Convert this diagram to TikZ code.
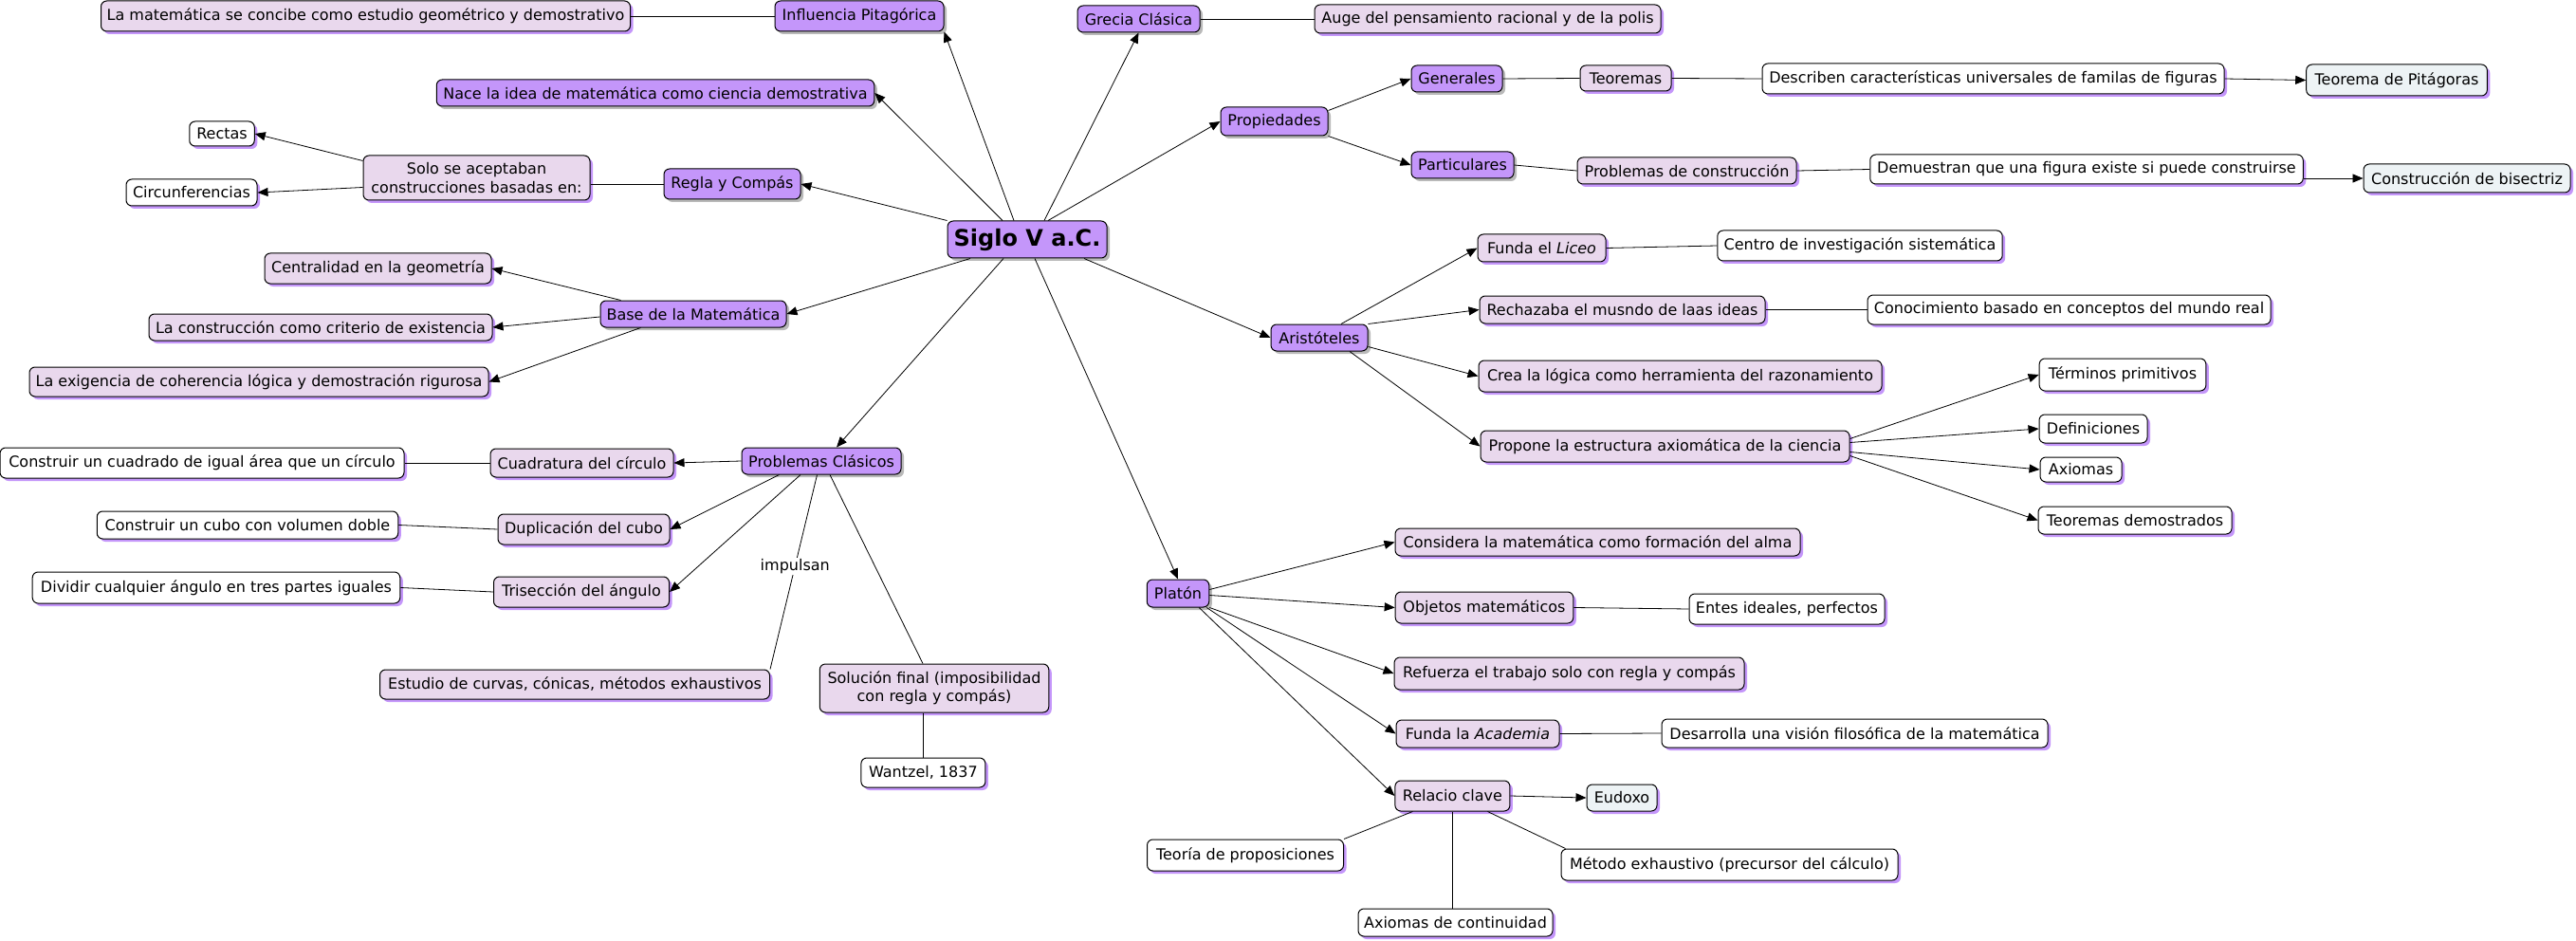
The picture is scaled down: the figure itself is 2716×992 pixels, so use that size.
\documentclass[tikz,border=0pt]{standalone}
\usepackage{fontspec}
\setmainfont{DejaVu Sans}
\usetikzlibrary{arrows.meta,shadows,calc}
\definecolor{cpur}{RGB}{196,150,250}
\definecolor{cpink}{RGB}{233,216,237}
\definecolor{cblue}{RGB}{237,243,245}
\definecolor{cshad}{RGB}{196,150,250}
\definecolor{cgshad}{RGB}{185,185,185}
\begin{document}
\begin{tikzpicture}[x=1pt,y=-1pt,
 box/.style={draw=black, line width=1pt, rounded corners=6pt, inner sep=2pt, align=center, text=black, font=\fontsize{16}{19.2}\selectfont},
 pn/.style={box, fill=cpur, drop shadow={shadow xshift=3pt, shadow yshift=-3pt, fill=cgshad, opacity=1}},
 kn/.style={box, fill=cpink, drop shadow={shadow xshift=3pt, shadow yshift=-3pt, fill=cshad, opacity=1}},
 wn/.style={box, fill=white, drop shadow={shadow xshift=3pt, shadow yshift=-3pt, fill=cshad, opacity=1}},
 bn/.style={box, fill=cblue, drop shadow={shadow xshift=3pt, shadow yshift=-3pt, fill=cshad, opacity=1}},
 sz/.style 2 args={minimum width=#1pt, minimum height=#2pt},
 link/.style={draw=black, line width=0.8pt},
 arr/.style={link, -{Triangle[length=11pt,width=9pt]}},
 lbl/.style={fill=white, inner sep=1pt, text=black, font=\fontsize{16}{19.2}\selectfont},
]
\fill[white] (0,0) rectangle (2716,992);
\useasboundingbox (0,0) rectangle (2716,992);

% purple nodes
\node[pn, sz={168}{39}, font=\fontsize{24}{28}\selectfont\bfseries] (siglo) at (1083,252.5) {Siglo V a.C.};
\node[pn, sz={178}{32}] (infl) at (906,17) {Influencia Pitagórica};
\node[pn, sz={461.5}{28}] (nace) at (691,98) {Nace la idea de matemática como ciencia demostrativa};
\node[pn, sz={129}{28}] (grecia) at (1200.5,20) {Grecia Clásica};
\node[pn, sz={113}{30}] (prop) at (1343.5,128) {Propiedades};
\node[pn, sz={96}{28}] (gen) at (1536,83) {Generales};
\node[pn, sz={108}{28}] (part) at (1542,174) {Particulares};
\node[pn, sz={102}{28}] (arist) at (1391,356) {Aristóteles};
\node[pn, sz={144}{32}] (regla) at (772,194) {Regla y Compás};
\node[pn, sz={196}{28}] (base) at (731,331) {Base de la Matemática};
\node[pn, sz={168}{28}] (probl) at (866,486) {Problemas Clásicos};
\node[pn, sz={65.5}{29}] (platon) at (1242,625.5) {Platón};

% pink nodes
\node[kn, sz={558}{32}] (lamat) at (385.5,17) {La matemática se concibe como estudio geométrico y demostrativo};
\node[kn, sz={365}{30}] (auge) at (1568.5,20) {Auge del pensamiento racional y de la polis};
\node[kn, sz={96}{27}] (teoremas) at (1714,82.5) {Teoremas};
\node[kn, sz={231}{28}] (probcons) at (1778.5,180) {Problemas de construcción};
\node[kn, sz={135}{29}] (liceo) at (1625.5,261.5) {Funda el \textit{Liceo}};
\node[kn, sz={301}{29}] (rech) at (1710.5,326.5) {Rechazaba el musndo de laas ideas};
\node[kn, sz={425}{33}] (crea) at (1771.5,396.5) {Crea la lógica como herramienta del razonamiento};
\node[kn, sz={389}{33}] (propone) at (1755.5,470.5) {Propone la estructura axiomática de la ciencia};
\node[kn, sz={239}{47}] (solo) at (502.5,187.5) {Solo se aceptaban\\construcciones basadas en:};
\node[kn, sz={239}{32}] (cent) at (398.5,283) {Centralidad en la geometría};
\node[kn, sz={362}{28}] (lacons) at (338,345) {La construcción como criterio de existencia};
\node[kn, sz={484}{31}] (exig) at (273,402.5) {La exigencia de coherencia lógica y demostración rigurosa};
\node[kn, sz={193}{30}] (cuad) at (613.5,488) {Cuadratura del círculo};
\node[kn, sz={181}{32}] (dup) at (615.5,558) {Duplicación del cubo};
\node[kn, sz={185}{32}] (tris) at (613,624) {Trisección del ángulo};
\node[kn, sz={411}{31}] (estudio) at (606,721.5) {Estudio de curvas, cónicas, métodos exhaustivos};
\node[kn, sz={241.5}{51}] (sol) at (985,725.5) {Solución final (imposibilidad\\con regla y compás)};
\node[kn, sz={427}{29}] (consid) at (1684.5,571.5) {Considera la matemática como formación del alma};
\node[kn, sz={187.6}{33}] (objetos) at (1565,640.5) {Objetos matemáticos};
\node[kn, sz={369}{34}] (refuerza) at (1654.5,710) {Refuerza el trabajo solo con regla y compás};
\node[kn, sz={172}{29}] (academia) at (1558,773.5) {Funda la \textit{Academia}};
\node[kn, sz={121}{32}] (relacio) at (1531.4,839) {Relacio clave};

% white nodes
\node[wn, sz={487}{32}] (describen) at (2101.5,83) {Describen características universales de familas de figuras};
\node[wn, sz={456.5}{31}] (demuestran) at (2200,178.5) {Demuestran que una figura existe si puede construirse};
\node[wn, sz={300.4}{32}] (centro) at (1961,259) {Centro de investigación sistemática};
\node[wn, sz={425}{31}] (conoc) at (2181.5,326.5) {Conocimiento basado en conceptos del mundo real};
\node[wn, sz={175.7}{34}] (term) at (2238,395) {Términos primitivos};
\node[wn, sz={114}{30}] (defin) at (2207,452) {Definiciones};
\node[wn, sz={86}{26}] (axiomas) at (2194,495) {Axiomas};
\node[wn, sz={204}{29}] (teordem) at (2251,548.5) {Teoremas demostrados};
\node[wn, sz={68.5}{26}] (rectas) at (234,141) {Rectas};
\node[wn, sz={138}{28}] (circ) at (202,203) {Circunferencias};
\node[wn, sz={426}{32}] (cuadrado) at (213,488) {Construir un cuadrado de igual área que un círculo};
\node[wn, sz={317.5}{29}] (cubo) at (261,553.5) {Construir un cubo con volumen doble};
\node[wn, sz={387.6}{33}] (dividir) at (228,619.5) {Dividir cualquier ángulo en tres partes iguales};
\node[wn, sz={131}{31}] (wantzel) at (973.4,814.5) {Wantzel, 1837};
\node[wn, sz={206}{32}] (entes) at (1884,642) {Entes ideales, perfectos};
\node[wn, sz={407}{30}] (desarrolla) at (1955.5,773) {Desarrolla una visión filosófica de la matemática};
\node[wn, sz={207}{33}] (teoria) at (1313,901.5) {Teoría de proposiciones};
\node[wn, sz={355}{33}] (metodo) at (1823.5,911.5) {Método exhaustivo (precursor del cálculo)};
\node[wn, sz={205}{29}] (axcont) at (1534.5,972.5) {Axiomas de continuidad};

% blue-grey nodes
\node[bn, sz={190.6}{33}] (pitag) at (2527,84.5) {Teorema de Pitágoras};
\node[bn, sz={218}{30}] (bisec) at (2601,188) {Construcción de bisectriz};
\node[bn, sz={74}{28}] (eudoxo) at (1710,841) {Eudoxo};

% connectors from the centre
\draw[arr] ($(siglo.north)+(-26,0)$) -- (nace.east);
\draw[arr] ($(siglo.north)+(-14,0)$) -- (infl.south east);
\draw[arr] ($(siglo.north)+(18,0)$) -- (grecia.south);
\draw[arr] ($(siglo.north)+(22,0)$) -- (prop.west);
\draw[arr] (siglo.north west) -- (regla.east);
\draw[arr] ($(siglo.south)+(-60,0)$) -- (base.east);
\draw[arr] ($(siglo.south)+(-25,0)$) -- ($(probl.north)+(16,0)$);
\draw[arr] ($(siglo.south)+(8,0)$) -- (platon.north);
\draw[arr] ($(siglo.south)+(60,0)$) -- (arist.west);

% top branches
\draw[link] (lamat.east) -- (infl.west);
\draw[link] (grecia.east) -- (auge.west);
\draw[arr] ($(prop.north east)+(0,4)$) -- (gen.west);
\draw[arr] (prop.south east) -- (part.west);
\draw[link] (gen.east) -- (teoremas.west);
\draw[link] (teoremas.east) -- (describen.west);
\draw[arr] (describen.east) -- (pitag.west);
\draw[link] (part.east) -- (probcons.west);
\draw[link] (probcons.east) -- (demuestran.west);
\draw[arr] (demuestran.east |- bisec.west) -- (bisec.west);

% Aristoteles
\draw[arr] ($(arist.north)+(23,0)$) -- (liceo.west);
\draw[arr] (arist.north east) -- (rech.west);
\draw[arr] ($(arist.south east)+(0,-5)$) -- (crea.west);
\draw[arr] ($(arist.south)+(32,0)$) -- (propone.west);
\draw[link] (liceo.east) -- (centro.west);
\draw[link] (rech.east) -- (conoc.west);
\draw[arr] ($(propone.east)+(0,-8)$) -- (term.west);
\draw[arr] ($(propone.east)+(0,-4)$) -- (defin.west);
\draw[arr] ($(propone.east)+(0,6)$) -- (axiomas.west);
\draw[arr] ($(propone.east)+(0,10)$) -- (teordem.west);

% left branches
\draw[link] (regla.west) -- (regla.west -| solo.east);
\draw[arr] ($(solo.north west)+(0,6)$) -- (rectas.east);
\draw[arr] ($(solo.west)+(0,10)$) -- (circ.east);
\draw[arr] ($(base.north west)+(22,0)$) -- (cent.east);
\draw[arr] ($(base.west)+(0,3)$) -- (lacons.east);
\draw[arr] ($(base.south west)+(43,0)$) -- (exig.east);

% Problemas clasicos
\draw[arr] (probl.west) -- (cuad.east);
\draw[arr] ($(probl.south west)+(40,0)$) -- (dup.east);
\draw[arr] ($(probl.south)+(-22,0)$) -- (tris.east);
\draw[link] ($(probl.south)+(-4.5,0)$) -- node[lbl, pos=0.47] (impulsan) {impulsan} (estudio.north east);
\draw[link] ($(probl.south)+(9,0)$) -- ($(sol.north)+(-12,0)$);
\draw[link] (wantzel.north |- sol.south) -- (wantzel.north);
\draw[link] (cuad.west) -- (cuadrado.east);
\draw[link] (dup.west) -- (cubo.east);
\draw[link] (tris.west) -- (dividir.east);

% Platon
\draw[arr] ($(platon.east)+(0,-4)$) -- (consid.west);
\draw[arr] ($(platon.east)+(0,2)$) -- (objetos.west);
\draw[arr] (platon.south east) -- (refuerza.west);
\draw[arr] ($(platon.south east)+(-3,0)$) -- (academia.west);
\draw[arr] ($(platon.south east)+(-11,0)$) -- (relacio.west);
\draw[link] (objetos.east) -- (entes.west);
\draw[link] (academia.east) -- (desarrolla.west);
\draw[arr] (relacio.east) -- (eudoxo.west);
\draw[link] ($(relacio.south west)+(19,0)$) -- (teoria.north east);
\draw[link] (relacio.south) -- (relacio.south |- axcont.north);
\draw[link] ($(relacio.south east)+(-24,0)$) -- ($(metodo.north west)+(5,0)$);
\end{tikzpicture}
\end{document}
